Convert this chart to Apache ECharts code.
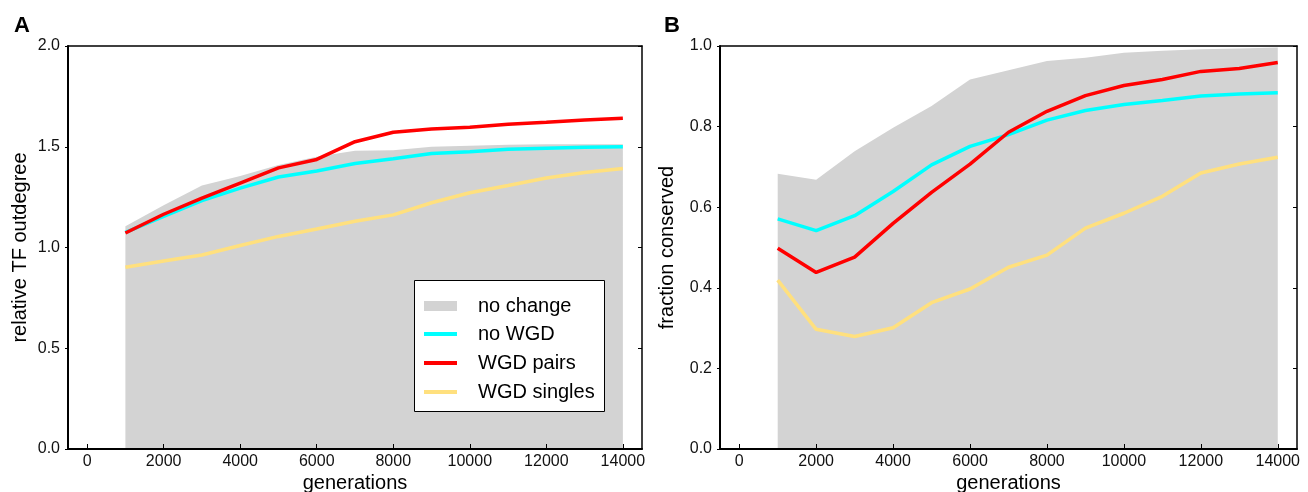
<!DOCTYPE html>
<html>
<head>
<meta charset="utf-8">
<script src="https://cdn.jsdelivr.net/npm/echarts@6/dist/echarts.min.js"></script>
<style>
html,body{margin:0;padding:0;background:#fff;}
#chart{width:1308px;height:492px;}
</style>
</head>
<body>
<div id="chart"></div>
<script>
// ---- data ----
const generations = [1000, 2000, 3000, 4000, 5000, 6000, 7000, 8000, 9000, 10000, 11000, 12000, 13000, 14000];
const seriesNames = ['no change', 'no WGD', 'WGD pairs', 'WGD singles'];

// Panel A: relative TF outdegree
const aNoChange = [1.105, 1.21, 1.308, 1.355, 1.41, 1.45, 1.48, 1.483, 1.50, 1.505, 1.51, 1.513, 1.513, 1.513];
const aNoWGD    = [1.075, 1.155, 1.233, 1.295, 1.35, 1.38, 1.417, 1.44, 1.467, 1.475, 1.487, 1.493, 1.498, 1.50];
const aPairs    = [1.072, 1.165, 1.245, 1.32, 1.395, 1.437, 1.525, 1.572, 1.588, 1.597, 1.612, 1.622, 1.633, 1.642];
const aSingles  = [0.902, 0.933, 0.963, 1.01, 1.055, 1.092, 1.13, 1.162, 1.222, 1.272, 1.308, 1.345, 1.372, 1.392];

// Panel B: fraction conserved
const bNoChange = [0.683, 0.668, 0.739, 0.797, 0.851, 0.917, 0.94, 0.963, 0.971, 0.983, 0.988, 0.992, 0.994, 0.996];
const bNoWGD    = [0.571, 0.542, 0.579, 0.639, 0.705, 0.751, 0.78, 0.816, 0.84, 0.855, 0.865, 0.876, 0.881, 0.884];
const bPairs    = [0.498, 0.438, 0.476, 0.56, 0.637, 0.707, 0.786, 0.838, 0.877, 0.902, 0.917, 0.937, 0.944, 0.959];
const bSingles  = [0.419, 0.297, 0.279, 0.301, 0.363, 0.397, 0.451, 0.481, 0.548, 0.585, 0.627, 0.685, 0.707, 0.724];

// ---- styling / layout ----
const FONT = "'Liberation Sans', Arial, sans-serif";
const COLORS = { 'no change': '#d3d3d3', 'no WGD': '#00ffff', 'WGD pairs': '#ff0000', 'WGD singles': '#ffe07e' };
const X_MIN = -500, X_MAX = 14500, TICK_MIN = 0, TICK_MAX = 14000, TICK_STEP = 2000;
const PANELS = [{ left: 68, width: 574 }, { left: 720, width: 577 }];
const TOP = 46, HEIGHT = 403;

function pairs(ys) { return generations.map((g, i) => [g, ys[i]]); }

// main grids (data) + tick grids spanning exactly 0..14000 of the same scale
const grids = [];
PANELS.forEach(p => grids.push({ left: p.left, top: TOP, width: p.width, height: HEIGHT, containLabel: false, outerBoundsMode: 'none' }));
PANELS.forEach(p => {
  const s = p.width / (X_MAX - X_MIN);
  grids.push({ left: p.left + (TICK_MIN - X_MIN) * s, top: TOP, width: (TICK_MAX - TICK_MIN) * s, height: HEIGHT,
               containLabel: false, outerBoundsMode: 'none' });
});

function mainX(gridIndex) {
  return [{
    type: 'value', gridIndex, min: X_MIN, max: X_MAX, position: 'bottom', z: 10,
    name: 'generations', nameLocation: 'middle', nameGap: 24,
    nameTextStyle: { fontFamily: FONT, fontSize: 20, color: '#000' },
    axisLine: { show: true, onZero: false, lineStyle: { color: '#000', width: 2 } },
    axisTick: { show: false }, axisLabel: { show: false }, splitLine: { show: false }
  }, {
    type: 'value', gridIndex, min: X_MIN, max: X_MAX, position: 'top', z: 10,
    axisLine: { show: true, onZero: false, lineStyle: { color: '#000', width: 1.5 } },
    axisTick: { show: false }, axisLabel: { show: false }, splitLine: { show: false }
  }];
}
function tickX(gridIndex) {
  return {
    type: 'value', gridIndex, min: TICK_MIN, max: TICK_MAX, interval: TICK_STEP, position: 'bottom', z: 11,
    axisLine: { show: false, onZero: false },
    axisTick: { show: true, inside: true, length: 5, lineStyle: { color: '#000', width: 1 } },
    axisLabel: { show: true, margin: 5, fontFamily: FONT, fontSize: 16, color: '#111', formatter: v => String(v) },
    splitLine: { show: false }
  };
}

function yAxisFor(gridIndex, max, interval, name, gap) {
  return [{
    type: 'value', gridIndex, min: 0, max, interval, position: 'left', z: 10,
    name, nameLocation: 'middle', nameGap: gap,
    nameTextStyle: { fontFamily: FONT, fontSize: 20, color: '#000' },
    axisLine: { show: true, onZero: false, lineStyle: { color: '#000', width: 2 } },
    axisTick: { show: true, inside: false, length: 3, lineStyle: { color: '#000', width: 1 } },
    axisLabel: { show: true, margin: 8, fontFamily: FONT, fontSize: 16, color: '#111',
                 formatter: v => v.toFixed(1) },
    splitLine: { show: false }
  }, {
    type: 'value', gridIndex, min: 0, max, interval, position: 'right', z: 10,
    axisLine: { show: true, onZero: false, lineStyle: { color: '#000', width: 1.5 } },
    axisTick: { show: true, inside: true, length: 4, lineStyle: { color: '#000', width: 1 } },
    axisLabel: { show: false }, splitLine: { show: false }
  }];
}
function hiddenY(gridIndex) {
  return { type: 'value', gridIndex, min: 0, max: 1, show: false };
}

function panelSeries(xIdx, yIdx, noChange, noWGD, wgdPairs, wgdSingles) {
  const base = { type: 'line', xAxisIndex: xIdx, yAxisIndex: yIdx, symbol: 'none', showSymbol: false, silent: true, animation: false };
  return [
    Object.assign({}, base, { name: 'no change', data: pairs(noChange), z: 1,
      itemStyle: { color: COLORS['no change'] },
      lineStyle: { width: 0, color: COLORS['no change'] },
      areaStyle: { color: COLORS['no change'], opacity: 1 } }),
    Object.assign({}, base, { name: 'no WGD', data: pairs(noWGD), z: 3,
      itemStyle: { color: COLORS['no WGD'] }, lineStyle: { width: 3.5, color: COLORS['no WGD'] } }),
    Object.assign({}, base, { name: 'WGD pairs', data: pairs(wgdPairs), z: 4,
      itemStyle: { color: COLORS['WGD pairs'] }, lineStyle: { width: 3.5, color: COLORS['WGD pairs'] } }),
    Object.assign({}, base, { name: 'WGD singles', data: pairs(wgdSingles), z: 2,
      itemStyle: { color: COLORS['WGD singles'] }, lineStyle: { width: 3.5, color: COLORS['WGD singles'] } })
  ];
}

const legendText = { fontFamily: FONT, fontSize: 20, lineHeight: 20, color: '#000', padding: [0, 0, 0, 16] };

const chart = echarts.init(document.getElementById('chart'), null, { renderer: 'canvas' });
const option = {
  backgroundColor: '#fff',
  animation: false,
  title: [
    { text: 'A', left: 9, top: 10, textStyle: { fontFamily: FONT, fontSize: 22, fontWeight: 'bold', color: '#000' } },
    { text: 'B', left: 659, top: 10, textStyle: { fontFamily: FONT, fontSize: 22, fontWeight: 'bold', color: '#000' } }
  ],
  grid: grids,
  // xAxis: 0,1 = panel A (bottom, top); 2,3 = panel B (bottom, top); 4,5 = tick axes A, B
  xAxis: [...mainX(0), ...mainX(1), tickX(2), tickX(3)],
  // yAxis: 0,1 = panel A (left, right); 2,3 = panel B; 4,5 = hidden for tick grids
  yAxis: [...yAxisFor(0, 2.0, 0.5, 'relative TF outdegree', 38),
          ...yAxisFor(1, 1.0, 0.2, 'fraction conserved', 43),
          hiddenY(2), hiddenY(3)],
  graphic: [{
    type: 'rect', z: 3, silent: true,
    shape: { x: 414.5, y: 280.5, width: 190, height: 131 },
    style: { fill: '#fff', stroke: '#000', lineWidth: 1 }
  }],
  legend: [{
    left: 424, top: 296, orient: 'vertical', padding: 0, z: 5,
    itemWidth: 33, itemHeight: 10, selectedMode: false,
    textStyle: legendText,
    data: [{ name: 'no change', icon: 'rect' }]
  }, {
    left: 424, top: 324, orient: 'vertical', padding: 0, z: 5,
    itemWidth: 33, itemHeight: 4, itemGap: 9, selectedMode: false,
    textStyle: legendText,
    data: [{ name: 'no WGD', icon: 'rect' }, { name: 'WGD pairs', icon: 'rect' }, { name: 'WGD singles', icon: 'rect' }]
  }],
  series: [
    ...panelSeries(0, 0, aNoChange, aNoWGD, aPairs, aSingles),
    ...panelSeries(2, 2, bNoChange, bNoWGD, bPairs, bSingles)
  ]
};
chart.setOption(option);
</script>
</body>
</html>
